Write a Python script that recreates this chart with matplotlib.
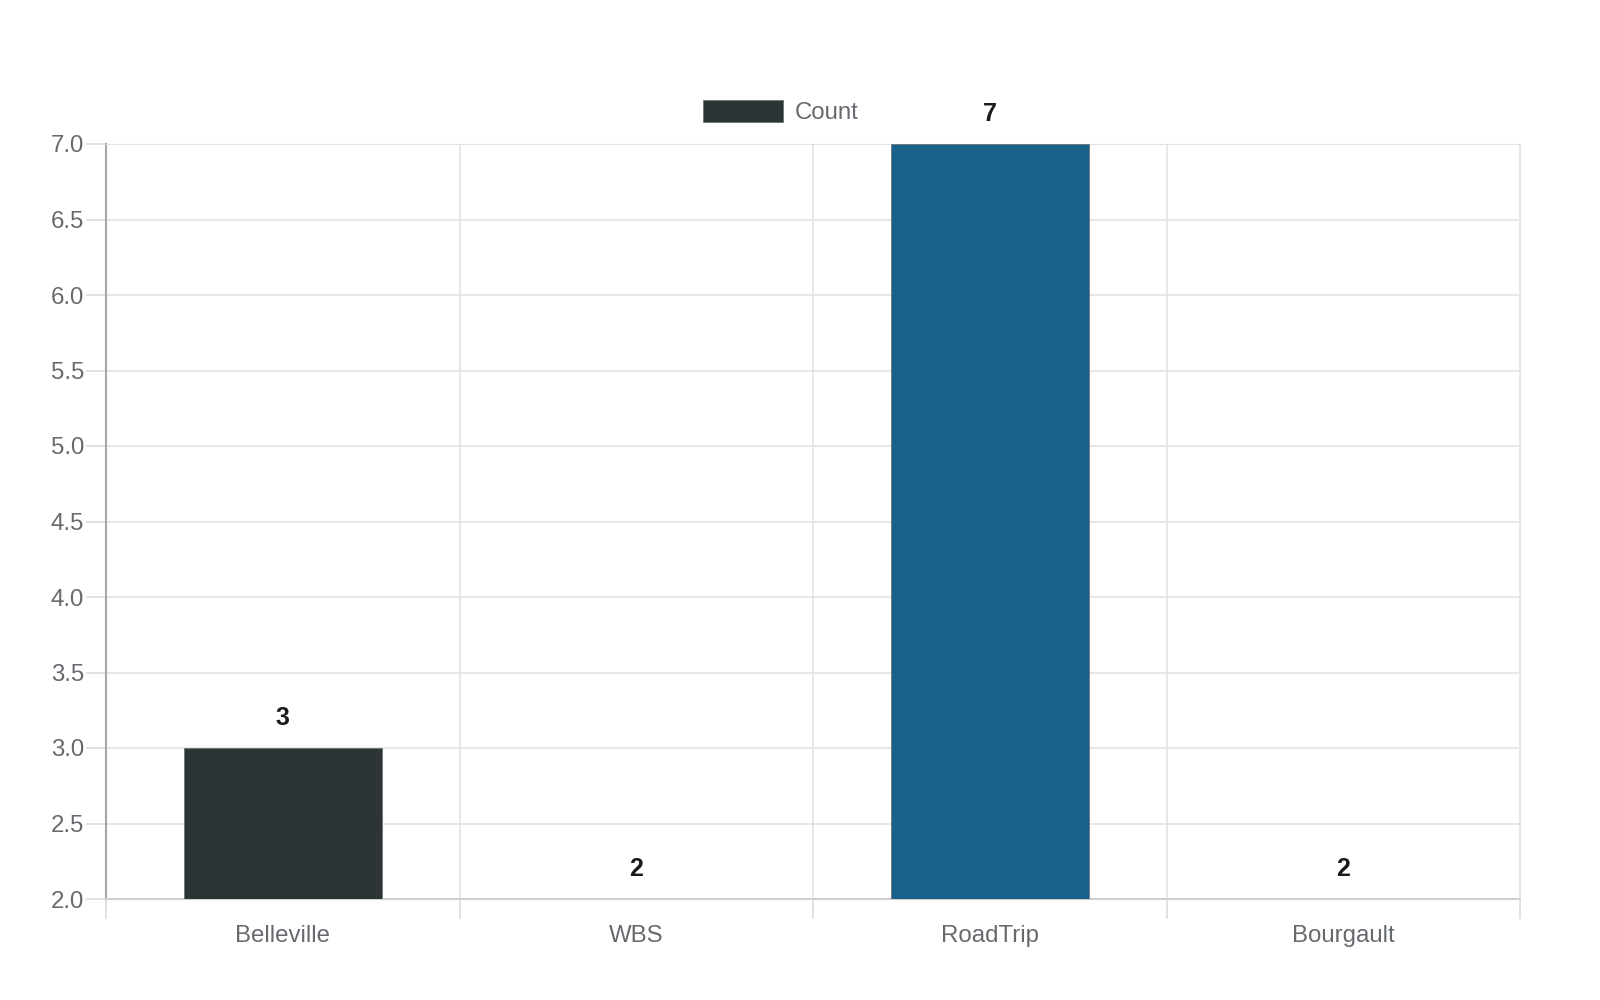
import matplotlib
matplotlib.use("Agg")
from matplotlib import pyplot as plt
import numpy as np

categories = ["Belleville", "WBS", "RoadTrip", "Bourgault"]
counts = [3, 2, 7, 2]
bar_colors = ["#2d3436", "#2d3436", "#17618a", "#2d3436"]
y_ticks = [2.0, 2.5, 3.0, 3.5, 4.0, 4.5, 5.0, 5.5, 6.0, 6.5, 7.0]

plt.rcParams['font.family'] = ['Liberation Sans', 'DejaVu Sans']
px = 0.72  # points per pixel at dpi 100

fig = plt.figure(figsize=(16, 10), dpi=100)
ax = fig.add_axes([106/1600, 1-899/1000, 1414/1600, 755/1000])

x = np.arange(len(categories))
ax.bar(x, counts, width=0.56, color=bar_colors, edgecolor="#6b7378", linewidth=0.6, label="Count", zorder=3)

ax.set_xlim(-0.5, len(categories)-0.5)
ax.set_ylim(y_ticks[0], y_ticks[-1])

# category labels on major ticks, boundaries on minor ticks
ax.set_xticks(x)
ax.set_xticklabels(categories)
ax.set_xticks(np.arange(len(categories)+1)-0.5, minor=True)
ax.tick_params(axis='x', which='major', length=0, pad=26*px, labelsize=24*px, labelcolor="#666a6e")
ax.tick_params(axis='x', which='minor', length=20*px, width=1.2, color="#dcdcdc")
ax.set_yticks(y_ticks)
ax.set_yticklabels(["%.1f" % v for v in y_ticks])
ax.tick_params(axis='y', length=20*px, width=1.2, color="#dcdcdc", pad=2*px, labelsize=24*px, labelcolor="#666a6e")

ax.grid(True, which='minor', axis='x', color="#e3e3e3", linewidth=1.2, zorder=0)
ax.grid(True, which='major', axis='y', color="#e3e3e3", linewidth=1.2, zorder=0)
ax.set_axisbelow(True)

ax.spines['left'].set_color("#a4a8ad")
ax.spines['left'].set_linewidth(1.5)
ax.spines['bottom'].set_color("#cfcfcf")
ax.spines['bottom'].set_linewidth(1.5)
ax.spines['top'].set_color("#e3e3e3")
ax.spines['right'].set_color("#e3e3e3")

for i, v in enumerate(counts):
    ax.annotate(str(v), xy=(i, v), xytext=(0, 30*px), textcoords='offset points',
                ha='center', va='center', fontsize=25*px, fontweight='bold',
                color="#1a1a1a", annotation_clip=False)

fig.legend(loc='center', bbox_to_anchor=(781/1600, 1-112/1000), frameon=False,
           fontsize=24*px, labelcolor="#666a6e", handlelength=3.33, handleheight=1.0,
           handletextpad=0.5, borderpad=0)

fig.savefig("out.png", dpi=100)
